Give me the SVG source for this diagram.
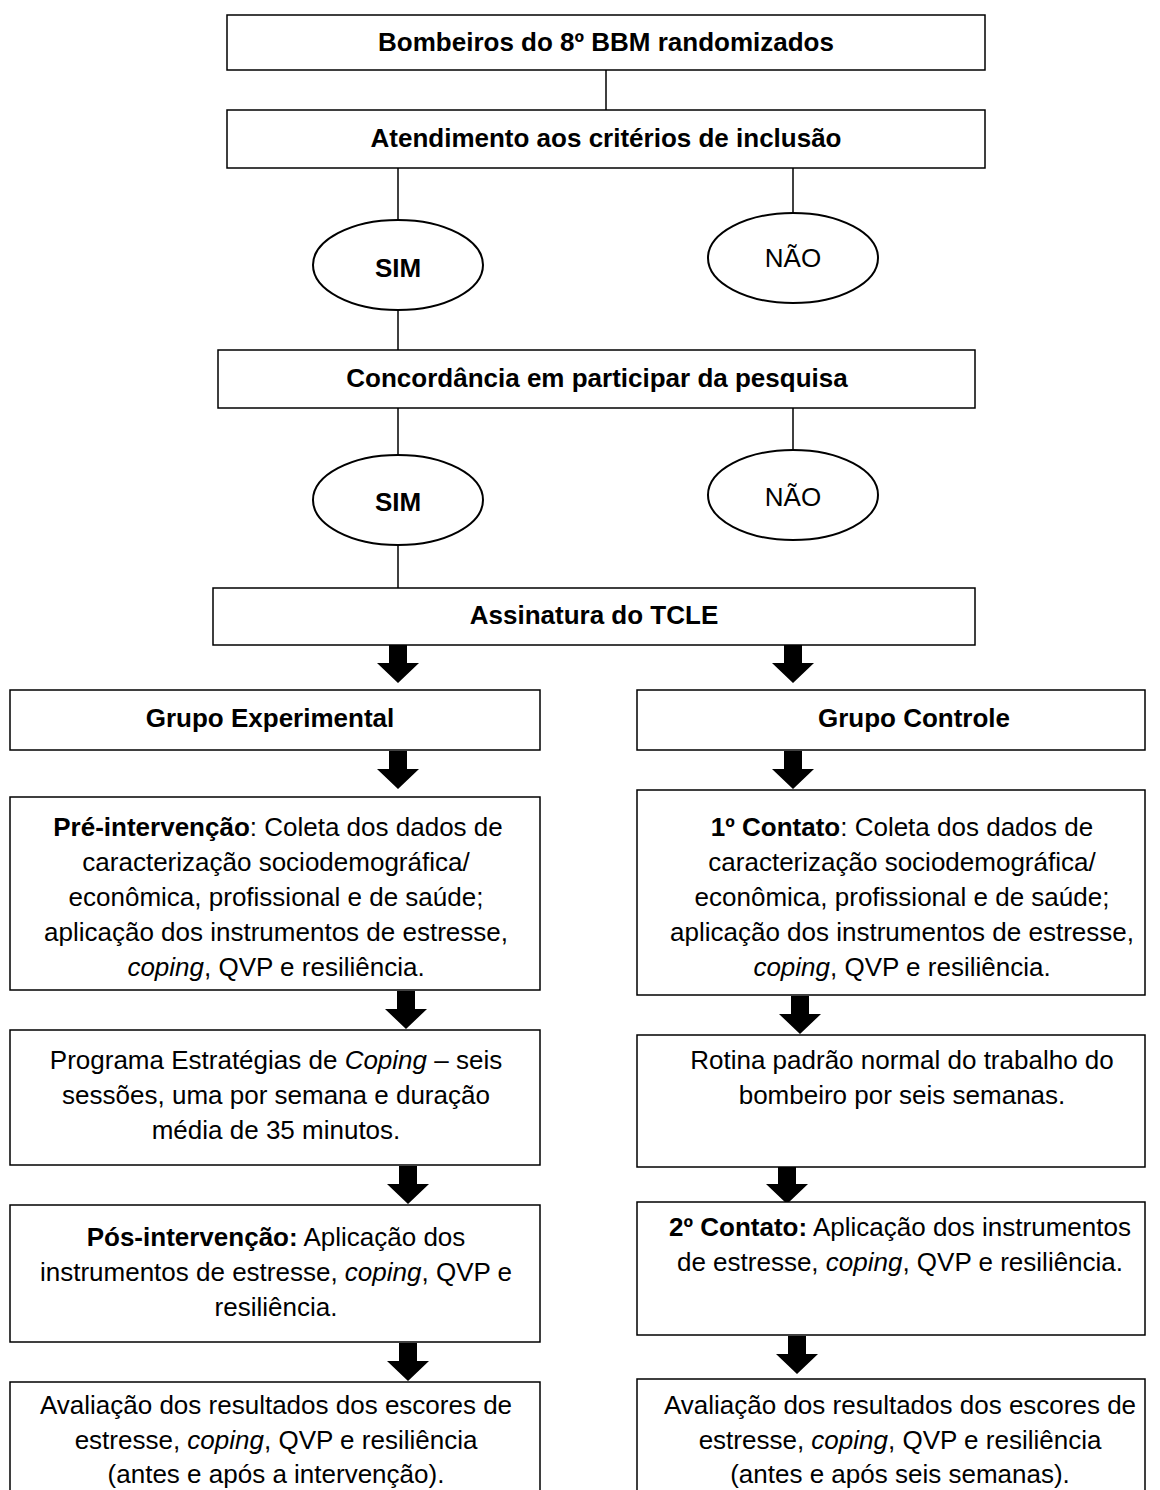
<svg xmlns="http://www.w3.org/2000/svg" xmlns:xlink="http://www.w3.org/1999/xlink" width="1160" height="1490" viewBox="0 0 1160 1490">
<style>
.box{fill:#fff;stroke:#000;stroke-width:1.5}
.ell{fill:#fff;stroke:#000;stroke-width:2}
.ln{stroke:#000;stroke-width:1.5;fill:none}
text{font-family:"Liberation Sans",Arial,sans-serif;font-size:26px;fill:#000;text-anchor:middle}
.b{font-weight:bold}
.i{font-style:italic}
</style>
<defs>
<path id="arr" d="M-9,0 H9 V18 H21 L0,38 L-21,18 H-9 Z" fill="#000"/>
</defs>
<rect width="1160" height="1490" fill="#fff"/>
<g id="connectors">
<line class="ln" x1="606" y1="70" x2="606" y2="110"/>
<line class="ln" x1="398" y1="168" x2="398" y2="220"/>
<line class="ln" x1="793" y1="168" x2="793" y2="213"/>
<line class="ln" x1="398" y1="310" x2="398" y2="350"/>
<line class="ln" x1="398" y1="408" x2="398" y2="455"/>
<line class="ln" x1="793" y1="408" x2="793" y2="450"/>
<line class="ln" x1="398" y1="545" x2="398" y2="588"/>
<use xlink:href="#arr" href="#arr" transform="translate(398,645)"/>
<use xlink:href="#arr" href="#arr" transform="translate(793,645)"/>
<use xlink:href="#arr" href="#arr" transform="translate(398,751)"/>
<use xlink:href="#arr" href="#arr" transform="translate(793,751)"/>
<use xlink:href="#arr" href="#arr" transform="translate(406,991)"/>
<use xlink:href="#arr" href="#arr" transform="translate(800,996)"/>
<use xlink:href="#arr" href="#arr" transform="translate(408,1166)"/>
<use xlink:href="#arr" href="#arr" transform="translate(787,1166)"/>
<use xlink:href="#arr" href="#arr" transform="translate(408,1343)"/>
<use xlink:href="#arr" href="#arr" transform="translate(797,1336)"/>
</g>
<g id="n1"><rect class="box" x="227" y="15" width="758" height="55"/><text class="b" x="606" y="51">Bombeiros do 8º BBM randomizados</text></g>
<g id="n2"><rect class="box" x="227" y="110" width="758" height="58"/><text class="b" x="606" y="147">Atendimento aos critérios de inclusão</text></g>
<g id="n3"><ellipse class="ell" cx="398" cy="265" rx="85" ry="45"/><text class="b" x="398" y="277">SIM</text></g>
<g id="n4"><ellipse class="ell" cx="793" cy="258" rx="85" ry="45"/><text x="793" y="267">NÃO</text></g>
<g id="n5"><rect class="box" x="218" y="350" width="757" height="58"/><text class="b" x="597" y="387">Concordância em participar da pesquisa</text></g>
<g id="n6"><ellipse class="ell" cx="398" cy="500" rx="85" ry="45"/><text class="b" x="398" y="511">SIM</text></g>
<g id="n7"><ellipse class="ell" cx="793" cy="495" rx="85" ry="45"/><text x="793" y="506">NÃO</text></g>
<g id="n8"><rect class="box" x="213" y="588" width="762" height="57"/><text class="b" x="594" y="624">Assinatura do TCLE</text></g>
<g id="n9"><rect class="box" x="10" y="690" width="530" height="60"/><text class="b" x="270" y="727">Grupo Experimental</text></g>
<g id="n10"><rect class="box" x="637" y="690" width="508" height="60"/><text class="b" x="914" y="727">Grupo Controle</text></g>
<g id="n11"><rect class="box" x="10" y="797" width="530" height="193"/>
<text x="278" y="836"><tspan class="b">Pré-intervenção</tspan>: Coleta dos dados de</text>
<text x="276" y="871">caracterização sociodemográfica/</text>
<text x="276" y="906">econômica, profissional e de saúde;</text>
<text x="276" y="941">aplicação dos instrumentos de estresse,</text>
<text x="276" y="976"><tspan class="i">coping</tspan>, QVP e resiliência.</text></g>
<g id="n12"><rect class="box" x="637" y="790" width="508" height="205"/>
<text x="902" y="836"><tspan class="b">1º Contato</tspan>: Coleta dos dados de</text>
<text x="902" y="871">caracterização sociodemográfica/</text>
<text x="902" y="906">econômica, profissional e de saúde;</text>
<text x="902" y="941">aplicação dos instrumentos de estresse,</text>
<text x="902" y="976"><tspan class="i">coping</tspan>, QVP e resiliência.</text></g>
<g id="n13"><rect class="box" x="10" y="1030" width="530" height="135"/>
<text x="276" y="1069">Programa Estratégias de <tspan class="i">Coping</tspan> – seis</text>
<text x="276" y="1104">sessões, uma por semana e duração</text>
<text x="276" y="1139">média de 35 minutos.</text></g>
<g id="n14"><rect class="box" x="637" y="1035" width="508" height="132"/>
<text x="902" y="1069">Rotina padrão normal do trabalho do</text>
<text x="902" y="1104">bombeiro por seis semanas.</text></g>
<g id="n15"><rect class="box" x="10" y="1205" width="530" height="137"/>
<text x="276" y="1246"><tspan class="b">Pós-intervenção:</tspan> Aplicação dos</text>
<text x="276" y="1281">instrumentos de estresse, <tspan class="i">coping</tspan>, QVP e</text>
<text x="276" y="1316">resiliência.</text></g>
<g id="n16"><rect class="box" x="637" y="1202" width="508" height="133"/>
<text x="900" y="1236"><tspan class="b">2º Contato:</tspan> Aplicação dos instrumentos</text>
<text x="900" y="1271">de estresse, <tspan class="i">coping</tspan>, QVP e resiliência.</text></g>
<g id="n17"><rect class="box" x="10" y="1382" width="530" height="120"/>
<text x="276" y="1414">Avaliação dos resultados dos escores de</text>
<text x="276" y="1449">estresse, <tspan class="i">coping</tspan>, QVP e resiliência</text>
<text x="276" y="1483">(antes e após a intervenção).</text></g>
<g id="n18"><rect class="box" x="637" y="1379" width="508" height="123"/>
<text x="900" y="1414">Avaliação dos resultados dos escores de</text>
<text x="900" y="1449">estresse, <tspan class="i">coping</tspan>, QVP e resiliência</text>
<text x="900" y="1483">(antes e após seis semanas).</text></g>
</svg>
